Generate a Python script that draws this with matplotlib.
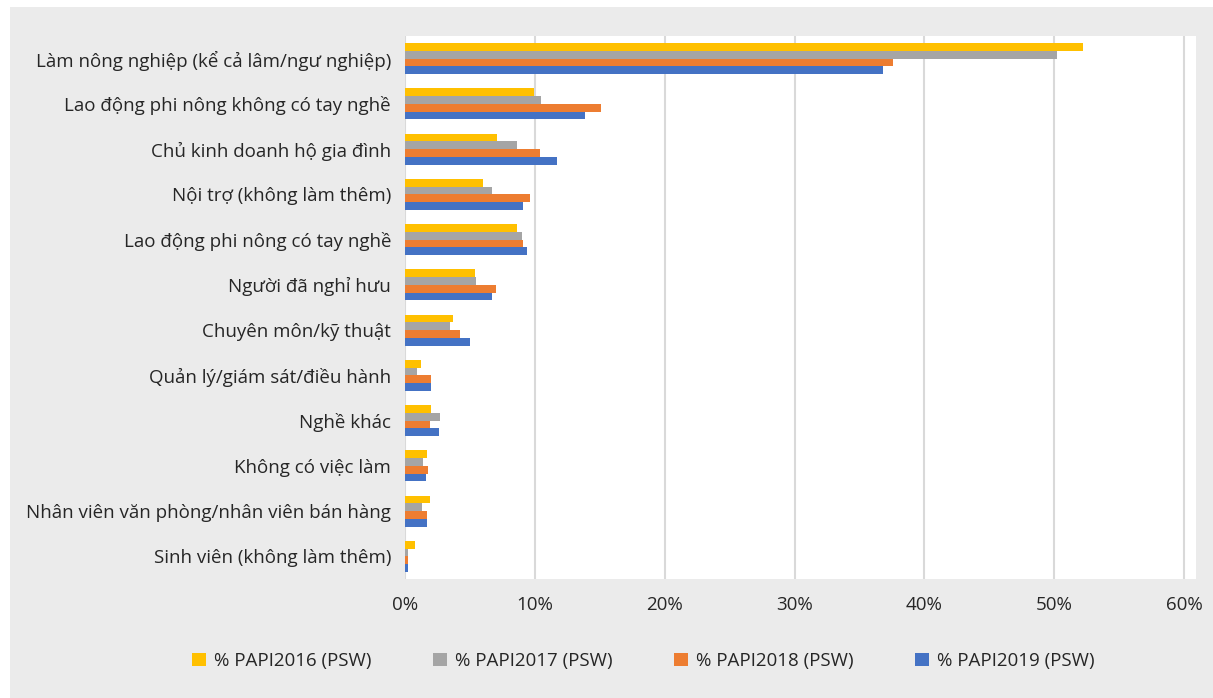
import matplotlib.pyplot as plt
from matplotlib.patches import Rectangle
import numpy as np

plt.rcParams['font.family'] = ['Open Sans', 'DejaVu Sans']

categories = [
    "Làm nông nghiệp (kể cả lâm/ngư nghiệp)",
    "Lao động phi nông không có tay nghề",
    "Chủ kinh doanh hộ gia đình",
    "Nội trợ (không làm thêm)",
    "Lao động phi nông có tay nghề",
    "Người đã nghỉ hưu",
    "Chuyên môn/kỹ thuật",
    "Quản lý/giám sát/điều hành",
    "Nghề khác",
    "Không có việc làm",
    "Nhân viên văn phòng/nhân viên bán hàng",
    "Sinh viên (không làm thêm)",
]

papi2016 = [52.2, 9.9, 7.1, 6.0, 8.6, 5.4, 3.7, 1.2, 2.0, 1.7, 1.9, 0.8]
papi2017 = [50.2, 10.5, 8.6, 6.7, 9.0, 5.5, 3.5, 0.9, 2.7, 1.4, 1.3, 0.2]
papi2018 = [37.6, 15.1, 10.4, 9.6, 9.1, 7.0, 4.2, 2.0, 1.9, 1.8, 1.7, 0.2]
papi2019 = [36.8, 13.9, 11.7, 9.1, 9.4, 6.7, 5.0, 2.0, 2.6, 1.6, 1.7, 0.2]

series = [
    ("% PAPI2016 (PSW)", papi2016, "#FFC000"),
    ("% PAPI2017 (PSW)", papi2017, "#A5A5A5"),
    ("% PAPI2018 (PSW)", papi2018, "#ED7D31"),
    ("% PAPI2019 (PSW)", papi2019, "#4472C4"),
]

W, H = 1213, 698
fig = plt.figure(figsize=(W / 100, H / 100), dpi=100, facecolor="white")
fig.patches.append(Rectangle((10 / W, 0), 1, (H - 7) / H, transform=fig.transFigure,
                             facecolor="#ebebeb", edgecolor="none", zorder=-10))

ax = fig.add_axes([405 / W, (H - 579) / H, (1196 - 405) / W, (579 - 36) / H])
ax.set_facecolor("white")

y = np.arange(len(categories))
h = 0.171
for i, (name, vals, color) in enumerate(series):
    ax.barh(y + (i - 1.5) * h, np.array(vals) / 100, height=h, color=color,
            label=name, zorder=3)

ax.set_ylim(len(categories) - 0.5, -0.5)
ax.set_xlim(0, 0.6 * 791 / 779)
ticks = np.arange(0, 0.61, 0.1)
ax.set_xticks(ticks)
ax.set_xticklabels([f"{int(round(t * 100))}%" for t in ticks])
ax.set_yticks(y)
ax.set_yticklabels(categories)
ax.xaxis.grid(True, color="#d9d9d9", linewidth=1.5, zorder=0)
for s in ax.spines.values():
    s.set_visible(False)
ax.tick_params(axis="both", length=0, labelsize=13.5, labelcolor="#262626")
ax.tick_params(axis="y", pad=10)
ax.tick_params(axis="x", pad=12)

fig.legend(loc="center", bbox_to_anchor=(0.5305, (H - 661) / H), ncol=4,
           frameon=False, fontsize=13.5, handlelength=0.75, handleheight=0.75,
           handletextpad=0.4, columnspacing=3.3, labelcolor="#262626")

fig.savefig("out.png", dpi=100, facecolor=fig.get_facecolor())
